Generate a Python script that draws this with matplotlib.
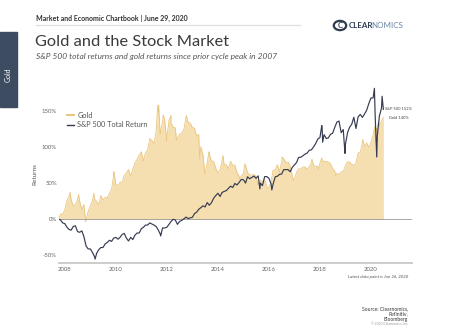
import matplotlib
matplotlib.use("Agg")
import matplotlib.pyplot as plt
import pandas as pd
from matplotlib.patches import Rectangle, Circle

plt.rcParams['font.family'] = ['Lato', 'DejaVu Sans']

# ---------------- data (percent return since Oct 9, 2007) ----------------
gold_dates = [
    "2007-10-09", "2007-10-31", "2007-11-30", "2007-12-31",
    "2008-01-31", "2008-02-29", "2008-03-17", "2008-03-31", "2008-04-30", "2008-05-31",
    "2008-06-30", "2008-07-15", "2008-07-31", "2008-08-31", "2008-09-30", "2008-10-24",
    "2008-10-31", "2008-11-30", "2008-12-31",
    "2009-01-31", "2009-02-20", "2009-02-28", "2009-03-31", "2009-04-30", "2009-05-31",
    "2009-06-30", "2009-07-31", "2009-08-31", "2009-09-30", "2009-10-31", "2009-11-30",
    "2009-12-03", "2009-12-31",
    "2010-01-31", "2010-02-28", "2010-03-31", "2010-04-30", "2010-05-31", "2010-06-30",
    "2010-07-31", "2010-08-31", "2010-09-30", "2010-10-31", "2010-11-30", "2010-12-31",
    "2011-01-31", "2011-02-28", "2011-03-31", "2011-04-30", "2011-05-31", "2011-06-30",
    "2011-07-31", "2011-08-22", "2011-08-31", "2011-09-05", "2011-09-26", "2011-09-30",
    "2011-10-31", "2011-11-08", "2011-11-30", "2011-12-29", "2011-12-31",
    "2012-01-31", "2012-02-28", "2012-02-29", "2012-03-31", "2012-04-30", "2012-05-16",
    "2012-05-31", "2012-06-30", "2012-07-31", "2012-08-31", "2012-09-30", "2012-10-04",
    "2012-10-31", "2012-11-30", "2012-12-31",
    "2013-01-31", "2013-02-28", "2013-03-31", "2013-04-15", "2013-04-30", "2013-05-31",
    "2013-06-28", "2013-07-31", "2013-08-27", "2013-08-31", "2013-09-30", "2013-10-31",
    "2013-11-30", "2013-12-31",
    "2014-01-31", "2014-02-28", "2014-03-14", "2014-03-31", "2014-04-30", "2014-05-31",
    "2014-06-30", "2014-07-31", "2014-08-31", "2014-09-30", "2014-10-31", "2014-11-07",
    "2014-11-30", "2014-12-31",
    "2015-01-22", "2015-01-31", "2015-02-28", "2015-03-31", "2015-04-30", "2015-05-31",
    "2015-06-30", "2015-07-24", "2015-07-31", "2015-08-31", "2015-09-30", "2015-10-31",
    "2015-11-30", "2015-12-17", "2015-12-31",
    "2016-01-31", "2016-02-29", "2016-03-31", "2016-04-30", "2016-05-31", "2016-06-30",
    "2016-07-06", "2016-07-31", "2016-08-31", "2016-09-30", "2016-10-31", "2016-11-30",
    "2016-12-15", "2016-12-31",
    "2017-01-31", "2017-02-28", "2017-03-31", "2017-04-30", "2017-05-31", "2017-06-30",
    "2017-07-31", "2017-08-31", "2017-09-08", "2017-09-30", "2017-10-31", "2017-11-30",
    "2017-12-12", "2017-12-31",
    "2018-01-25", "2018-01-31", "2018-02-28", "2018-03-31", "2018-04-30", "2018-05-31",
    "2018-06-30", "2018-07-31", "2018-08-16", "2018-08-31", "2018-09-30", "2018-10-31",
    "2018-11-30", "2018-12-31",
    "2019-01-31", "2019-02-28", "2019-03-31", "2019-04-30", "2019-05-31", "2019-06-30",
    "2019-07-31", "2019-08-31", "2019-09-04", "2019-09-30", "2019-10-31", "2019-11-30",
    "2019-12-31",
    "2020-01-31", "2020-02-24", "2020-02-29", "2020-03-19", "2020-03-24", "2020-03-31",
    "2020-04-14", "2020-04-30", "2020-05-31", "2020-06-26",
]
gold_values = [
    2, 7.5, 6.5, 13.5,
    25.6, 32, 37.5, 27, 18.5, 20.4,
    26.5, 34.4, 25, 13.3, 20.3, -3,
    -0.7, 10.9, 18.4,
    26, 36, 28, 24.8, 20, 32.7,
    26.5, 30, 30, 35.5, 41.5, 61,
    65.7, 48,
    47, 51, 51.4, 60.5, 64, 69,
    59, 69.5, 77.8, 83, 88.6, 93.3,
    80.5, 92, 95.8, 111.7, 109, 104,
    121.5, 157, 148.4, 157.8, 117.7, 120.4,
    134, 144, 137.6, 108, 112.8,
    136.7, 143.5, 132.8, 127, 126.4, 109.5,
    112.7, 117.5, 119, 124, 141, 143.5,
    134, 133, 126.4,
    125.9, 114.7, 117.4, 83.7, 100.3, 89.5,
    62.2, 78.8, 93.2, 90, 80.5, 80,
    70.5, 63.5,
    69, 80.4, 88.4, 74.7, 75.6, 70,
    80, 74.6, 75, 64.6, 59.5, 55.4,
    60, 63,
    77, 74, 65, 61, 61, 62,
    59.5, 47.6, 49, 54, 51.7, 55.4,
    45, 42.9, 44.4,
    51.8, 68, 67.8, 75.5, 65.3, 79.7,
    85.9, 83.8, 78, 79, 73.2, 59.6,
    53.5, 56,
    64.8, 69.8, 69.4, 72.5, 72.5, 69,
    72.7, 78.5, 83, 74.6, 72.8, 73.6,
    69, 77.3,
    84.8, 82, 79.2, 80.3, 79, 76.5,
    70, 66.5, 59.7, 63.4, 62, 65.3,
    66, 74.4,
    79.7, 79, 75.8, 74.7, 77.6, 91.7,
    92.2, 106.8, 110.3, 100.3, 105.6, 99,
    106,
    116.2, 128.6, 115.6, 100.5, 125.9, 117,
    135, 129.5, 135.4, 141,
]

sp_dates = [
    "2007-10-09", "2007-10-31", "2007-11-30", "2007-12-31",
    "2008-01-31", "2008-02-29", "2008-03-31", "2008-04-30", "2008-05-31", "2008-06-30",
    "2008-07-31", "2008-08-31", "2008-09-30", "2008-10-31", "2008-11-30", "2008-12-31",
    "2009-01-31", "2009-02-28", "2009-03-09", "2009-03-31", "2009-04-30", "2009-05-31",
    "2009-06-30", "2009-07-31", "2009-08-31", "2009-09-30", "2009-10-31", "2009-11-30",
    "2009-12-31",
    "2010-01-31", "2010-02-28", "2010-03-31", "2010-04-30", "2010-05-31", "2010-06-30",
    "2010-07-31", "2010-08-31", "2010-09-30", "2010-10-31", "2010-11-30", "2010-12-31",
    "2011-01-31", "2011-02-28", "2011-03-31", "2011-04-30", "2011-05-31", "2011-06-30",
    "2011-07-31", "2011-08-31", "2011-09-30", "2011-10-03", "2011-10-31", "2011-11-30",
    "2011-12-31",
    "2012-01-31", "2012-02-29", "2012-03-31", "2012-04-30", "2012-05-31", "2012-06-30",
    "2012-07-31", "2012-08-31", "2012-09-30", "2012-10-31", "2012-11-30", "2012-12-31",
    "2013-01-31", "2013-02-28", "2013-03-31", "2013-04-30", "2013-05-31", "2013-06-30",
    "2013-07-31", "2013-08-31", "2013-09-30", "2013-10-31", "2013-11-30", "2013-12-31",
    "2014-01-31", "2014-02-28", "2014-03-31", "2014-04-30", "2014-05-31", "2014-06-30",
    "2014-07-31", "2014-08-31", "2014-09-30", "2014-10-31", "2014-11-30", "2014-12-31",
    "2015-01-31", "2015-02-28", "2015-03-31", "2015-04-30", "2015-05-31", "2015-06-30",
    "2015-07-31", "2015-08-24", "2015-08-31", "2015-09-30", "2015-10-31", "2015-11-30",
    "2015-12-31",
    "2016-01-31", "2016-02-11", "2016-02-29", "2016-03-31", "2016-04-30", "2016-05-31",
    "2016-06-30", "2016-07-31", "2016-08-31", "2016-09-30", "2016-10-31", "2016-11-30",
    "2016-12-31",
    "2017-01-31", "2017-02-28", "2017-03-31", "2017-04-30", "2017-05-31", "2017-06-30",
    "2017-07-31", "2017-08-31", "2017-09-30", "2017-10-31", "2017-11-30", "2017-12-31",
    "2018-01-26", "2018-01-31", "2018-02-08", "2018-02-28", "2018-03-31", "2018-04-30",
    "2018-05-31", "2018-06-30", "2018-07-31", "2018-08-31", "2018-09-30", "2018-10-31",
    "2018-11-30", "2018-12-24", "2018-12-31",
    "2019-01-31", "2019-02-28", "2019-03-31", "2019-04-30", "2019-05-31", "2019-06-30",
    "2019-07-31", "2019-08-31", "2019-09-30", "2019-10-31", "2019-11-30", "2019-12-31",
    "2020-01-31", "2020-02-19", "2020-02-29", "2020-03-23", "2020-03-31", "2020-04-30",
    "2020-05-31", "2020-06-08", "2020-06-26",
]
sp_values = [
    0, -1, -5, -6,
    -11, -14, -15, -10, -9, -17,
    -18, -16, -24, -37, -41, -41,
    -46, -51.5, -55, -47, -42, -39,
    -39, -34, -32, -29, -30.5, -26,
    -25,
    -27.5, -25, -21, -19.5, -26, -30,
    -25, -28, -22, -19, -19, -13,
    -11, -8, -8, -5, -6.5, -8,
    -10, -15, -21, -23, -12, -12,
    -11,
    -7, -3, 0, -1, -7, -3,
    -1.5, 0.6, 3, 1, 2, 2.7,
    8, 9.6, 13.7, 16, 18.6, 17,
    23, 19.4, 23, 29, 32.7, 36,
    31.5, 37, 38.5, 39.6, 42.8, 45.8,
    43.9, 49.5, 47.4, 51, 55, 54.7,
    50, 58.7, 56, 57.8, 59.7, 56.6,
    60, 42, 50, 46.5, 58.9, 59,
    56.7,
    49, 40.6, 48.6, 58.7, 59.4, 62,
    62.5, 68.6, 68.7, 68.7, 65.7, 71.7,
    75,
    78.5, 85.5, 85.7, 87.7, 90, 91.4,
    95.4, 95.9, 100, 104.7, 110.8, 113,
    129.5, 125.6, 106.5, 117, 111.6, 112.5,
    117.4, 118.8, 127, 134.4, 135.7, 119.7,
    124, 91, 103.8,
    120, 127, 131.4, 141, 125.4, 141.4,
    144.9, 140.8, 145.4, 150.8, 159.7, 167.6,
    167.6, 181, 145.4, 86, 115, 142.6,
    154, 170, 151.9,
]

year_ticks = ["2008", "2010", "2012", "2014", "2016", "2018", "2020"]
y_ticks = [-50, 0, 50, 100, 150]
y_tick_labels = ["-50%", "0%", "50%", "100%", "150%"]
series_names = ["Gold", "S&P 500 Total Return"]
end_labels = ["S&P 500 152%", "Gold 140%"]
end_values = [152, 140]

# ---------------- figure ----------------
W, H = 449, 336
fig = plt.figure(figsize=(W / 100, H / 100), dpi=100)
fig.patch.set_facecolor("white")

def fx(px):
    return px / W

def fy(py):
    return 1 - py / H

gold_fill = "#f5dfb0"
gold_edge = "#eac57f"
sp_color = "#363b52"

ax = fig.add_axes([fx(59), fy(262.7), fx(412 - 59), (262.7 - 85.4) / H])
gd = pd.to_datetime(gold_dates)
sd = pd.to_datetime(sp_dates)

ax.fill_between(gd, 0, gold_values, color=gold_fill, linewidth=0, zorder=1)
ax.plot(gd, gold_values, color=gold_edge, lw=0.6, zorder=2, label=series_names[0])
ax.axhline(0, color="#9a9a9a", lw=0.6, zorder=3)
ax.plot(sd, sp_values, color=sp_color, lw=0.85, zorder=4, label=series_names[1])

ax.set_xlim(pd.Timestamp("2007-10-09"), pd.Timestamp("2021-08-10"))
ax.set_ylim(-60, 185)

ax.set_xticks([pd.Timestamp(f"{y}-01-01") for y in year_ticks])
ax.set_xticklabels(year_ticks)
ax.set_yticks(y_ticks)
ax.set_yticklabels(y_tick_labels)
ax.tick_params(axis="both", length=0, labelsize=4.3, colors="#666666")
ax.tick_params(axis="x", pad=3)
ax.tick_params(axis="y", pad=1.5)
for side in ["top", "right", "left"]:
    ax.spines[side].set_visible(False)
ax.spines["bottom"].set_color("#c8c8c8")
ax.spines["bottom"].set_linewidth(1.3)
ax.set_facecolor("none")

ax.set_ylabel("Returns", fontsize=4.6, color="#555555", labelpad=3)

# legend
leg = ax.legend(loc="upper left", bbox_to_anchor=(0.01, 0.875), frameon=False,
                fontsize=5.3, handlelength=1.0, handletextpad=0.4,
                labelspacing=0.3, borderaxespad=0.2)
for t in leg.get_texts():
    t.set_color("#555555")
for l in leg.get_lines():
    l.set_linewidth(1.0)
leg.get_lines()[0].set_color(gold_edge)
leg.get_lines()[0].set_linewidth(1.4)

# end labels
ax.annotate(end_labels[0], xy=(sd[-1], end_values[0]), xytext=(1, 0),
            textcoords="offset points", fontsize=2.9, color="#444444",
            ha="left", va="center")
ax.annotate(end_labels[1], xy=(gd[-1], end_values[1]), xytext=(4, 0),
            textcoords="offset points", fontsize=2.9, color="#444444",
            ha="left", va="center")

# ---------------- header / decorations ----------------
fig.add_artist(Rectangle((0, fy(107)), fx(17), (107 - 31.5) / H,
                         transform=fig.transFigure, color="#3e4c62", zorder=0))
fig.text(fx(8.5), fy(75), "Gold", rotation=90, color="white", fontsize=5,
         ha="center", va="center")

fig.text(fx(36), fy(18), "Market and Economic Chartbook | June 29, 2020",
         fontsize=5.0, color="#333333", fontweight="bold", ha="left", va="center")
fig.add_artist(plt.Line2D([fx(36), fx(300)], [fy(25), fy(25)], color="#dddddd",
                          lw=0.9, transform=fig.transFigure))
fig.text(fx(35), fy(42), "Gold and the Stock Market", fontsize=11.8,
         color="#3a3a3a", ha="left", va="center")
fig.text(fx(36), fy(57), "S&P 500 total returns and gold returns since prior cycle peak in 2007",
         fontsize=6.0, color="#555555", style="italic", ha="left", va="center")

# logo
fig.add_artist(Circle((fx(340), fy(25.5)), 6.2 / W, transform=fig.transFigure,
                      facecolor="none", edgecolor="#2f3c4f", lw=1.6))
fig.text(fx(340), fy(25.5), "C", fontsize=5.5, color="#2f3c4f", fontweight="bold",
         ha="center", va="center")
fig.text(fx(348.5), fy(25.5), "CLEAR", fontsize=5.8, color="#2f3c4f",
         fontweight="bold", ha="left", va="center")
fig.text(fx(371.5), fy(25.5), "NOMICS", fontsize=5.8, color="#6a87a8",
         ha="left", va="center")

fig.text(fx(408), fy(277), "Latest data point is Jun 26, 2020", fontsize=3.2,
         color="#555555", style="italic", ha="right", va="center")
fig.text(fx(408), fy(314), "Source: Clearnomics,\nRefinitiv,\nBloomberg", fontsize=3.6,
         color="#333333", ha="right", va="center", linespacing=1.15)
fig.text(fx(408), fy(324.5), "© 2020 Clearnomics, Inc", fontsize=2.4,
         color="#999999", ha="right", va="center")

fig.savefig("out.png", dpi=100, facecolor="white")
